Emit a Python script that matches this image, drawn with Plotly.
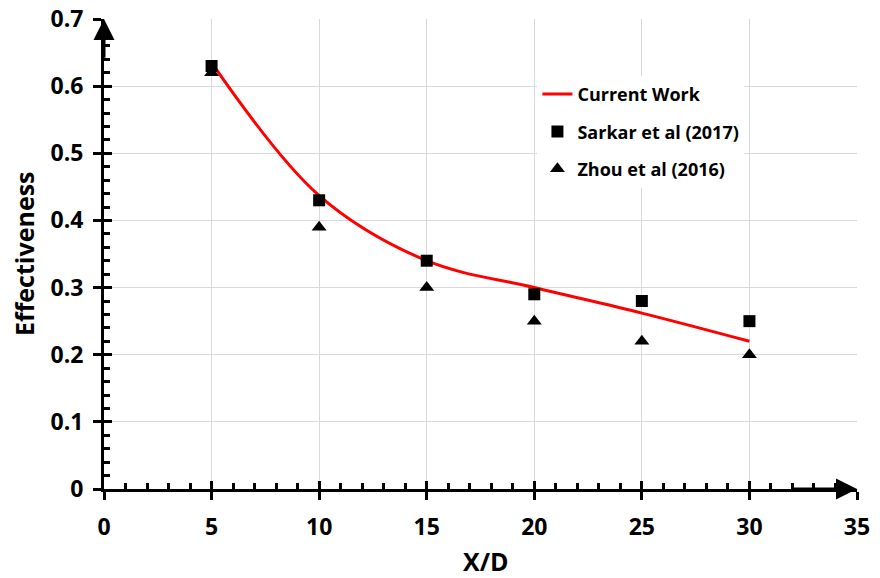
import plotly.graph_objects as go

# Data
xd = [5, 10, 15, 20, 25, 30]
current_work = [0.635, 0.437, 0.340, 0.300, 0.262, 0.220]
sarkar_2017 = [0.63, 0.43, 0.34, 0.29, 0.28, 0.25]
zhou_2016 = [0.62, 0.39, 0.30, 0.25, 0.22, 0.20]
x_title = "X/D"
y_title = "Effectiveness"

FONT = "Open Sans"

fig = go.Figure()
fig.add_trace(go.Scatter(x=xd, y=current_work, mode="lines", name="Current Work",
                         line=dict(color="#ff0000", width=3, shape="spline", smoothing=1.0),
                         legendgroup="a"))
fig.add_trace(go.Scatter(x=xd, y=sarkar_2017, mode="markers", name="Sarkar et al (2017)",
                         marker=dict(symbol="square", size=12, color="black"),
                         legendgroup="b"))
fig.add_trace(go.Scatter(x=xd, y=zhou_2016, mode="markers", name="Zhou et al (2016)",
                         marker=dict(symbol="triangle-up", size=13, color="black"),
                         legendgroup="c"))
# empty trace to activate overlay axes (inner tick halves)
fig.add_trace(go.Scatter(x=[], y=[], xaxis="x2", yaxis="y2", showlegend=False, hoverinfo="skip"))

tickfont = dict(family=FONT, size=23, color="black", weight="bold")
titlefont = dict(family=FONT, size=25, color="black", weight="bold")

fig.update_layout(
    width=872, height=570,
    margin=dict(l=96, r=23, t=11, b=89),
    paper_bgcolor="white", plot_bgcolor="white",
    showlegend=True,
    legend=dict(x=0.5756, y=0.879, xanchor="left", yanchor="top",
                bgcolor="white", borderwidth=0,
                font=dict(family=FONT, size=18, color="black", weight="bold"),
                tracegroupgap=11),
    xaxis=dict(range=[0, 35], dtick=5, tick0=0, showgrid=True, gridcolor="#d9d9d9", gridwidth=1,
               zeroline=False, showline=True, linecolor="black", linewidth=3,
               ticks="outside", ticklen=8, tickwidth=3, tickcolor="black",
               tickfont=tickfont, automargin=False, ticklabelstandoff=7, ticklabeloverflow="allow"),
    yaxis=dict(range=[0, 0.7], dtick=0.1, tick0=0, showgrid=True, gridcolor="#d9d9d9", gridwidth=1,
               zeroline=False, showline=True, linecolor="black", linewidth=3,
               ticks="outside", ticklen=8, tickwidth=3, tickcolor="black",
               tickfont=tickfont, automargin=False, ticklabelstandoff=5, ticklabeloverflow="allow"),
    xaxis2=dict(range=[0, 35], overlaying="x", anchor="y2", side="bottom", dtick=5, tick0=0,
                showgrid=False, zeroline=False, showline=False, showticklabels=False, automargin=False,
                ticks="inside", ticklen=8, tickwidth=3, tickcolor="black",
                minor=dict(dtick=1, ticks="inside", ticklen=6, tickwidth=2.5, tickcolor="black", showgrid=False)),
    yaxis2=dict(range=[0, 0.7], overlaying="y", anchor="x2", side="left", dtick=0.1, tick0=0,
                showgrid=False, zeroline=False, showline=False, showticklabels=False, automargin=False,
                ticks="inside", ticklen=8, tickwidth=3, tickcolor="black",
                minor=dict(dtick=0.02, ticks="inside", ticklen=6, tickwidth=2.5, tickcolor="black", showgrid=False)),
)

# axis titles
fig.add_annotation(text=x_title, xref="paper", yref="paper", x=0.5, y=0,
                   xanchor="center", yanchor="middle", xshift=5, yshift=-72,
                   showarrow=False, font=titlefont)
fig.add_annotation(text=y_title, xref="paper", yref="paper", x=0, y=0.5, textangle=-90,
                   xanchor="center", yanchor="middle", xshift=-80, yshift=0,
                   showarrow=False, font=titlefont)

# axis arrowheads
fig.add_annotation(x=0, y=0.7, ax=0, ay=0.64, xref="x", yref="y", axref="x", ayref="y",
                   showarrow=True, arrowhead=2, arrowsize=1.4, arrowwidth=3, arrowcolor="black", text="")
fig.add_annotation(x=35, y=0, ax=32, ay=0, xref="x", yref="y", axref="x", ayref="y",
                   showarrow=True, arrowhead=2, arrowsize=1.4, arrowwidth=3, arrowcolor="black", text="")

fig.write_html("out.html")
